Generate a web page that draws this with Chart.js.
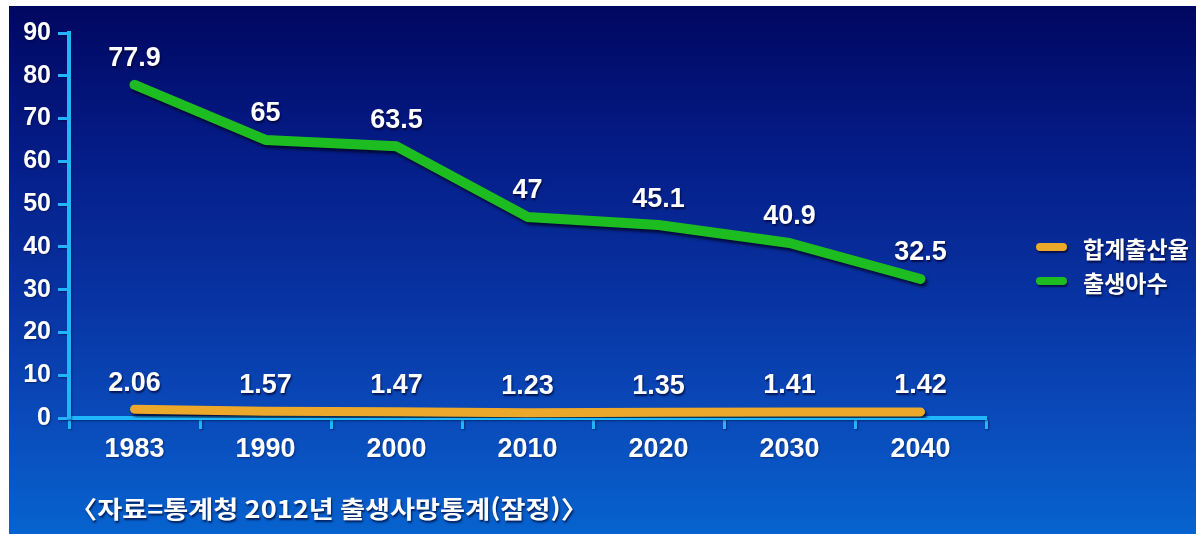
<!DOCTYPE html>
<html lang="ko">
<head>
<meta charset="utf-8">
<title>합계출산율 · 출생아수</title>
<script src="https://cdn.jsdelivr.net/npm/chart.js@4.4.1/dist/chart.umd.min.js"></script>
<style>
  html, body { margin: 0; padding: 0; background: #ffffff; }
  #wrap { width: 1196px; height: 534px; }
  canvas { display: block; }
</style>
</head>
<body>
<div id="wrap"><canvas id="chart" width="1196" height="534"></canvas></div>
<script>
// Years on the horizontal axis
const years = ['1983', '1990', '2000', '2010', '2020', '2030', '2040'];
// Total fertility rate (births per woman)
const fertilityRate = [2.06, 1.57, 1.47, 1.23, 1.35, 1.41, 1.42];
// Live births (10,000 persons)
const births = [77.9, 65, 63.5, 47, 45.1, 40.9, 32.5];
// Series names shown in the legend
const seriesNames = ['합계출산율', '출생아수'];
// Vertical axis range
const yMin = 0, yMax = 90, yStep = 10;
// Source note under the chart
const sourceNote = '〈자료=통계청 2012년 출생사망통계(잠정)〉';

const AXIS = '#20b6fa';
const ORANGE = '#eca82a';
const GREEN = '#1dbd22';
const NUM_FONT = "'Liberation Sans', Arial, 'Noto Sans CJK KR', sans-serif";
const KR_FONT = "'Noto Sans CJK KR', 'Liberation Sans', sans-serif";

// Navy-to-blue panel behind everything, plus a soft shadow for axes and text
const backdrop = {
  id: 'backdrop',
  beforeDraw(chart) {
    const ctx = chart.ctx;
    const x0 = 9, y0 = 6, w = chart.width - x0, h = chart.height - y0;
    ctx.save();
    const g = ctx.createLinearGradient(0, y0, 0, y0 + h);
    g.addColorStop(0, '#000760');
    g.addColorStop(0.25, '#041a84');
    g.addColorStop(0.55, '#0833a2');
    g.addColorStop(0.8, '#0a4cbc');
    g.addColorStop(1, '#0663cf');
    ctx.fillStyle = g;
    ctx.fillRect(x0, y0, w, h);
    ctx.restore();
    ctx.shadowColor = 'rgba(0, 0, 40, 0.45)';
    ctx.shadowOffsetX = 1;
    ctx.shadowOffsetY = 1;
    ctx.shadowBlur = 2;
  }
};

// Dark drop shadow under each line
const lineShadow = {
  id: 'lineShadow',
  beforeDatasetDraw(chart) {
    const ctx = chart.ctx;
    ctx.save();
    ctx.shadowColor = 'rgba(0, 0, 30, 0.75)';
    ctx.shadowOffsetX = 2;
    ctx.shadowOffsetY = 3;
    ctx.shadowBlur = 3;
  },
  afterDatasetDraw(chart) {
    chart.ctx.restore();
  }
};

// Value labels above every point
const valueLabels = {
  id: 'valueLabels',
  afterDatasetsDraw(chart) {
    const ctx = chart.ctx;
    ctx.save();
    ctx.font = `bold 27px ${NUM_FONT}`;
    ctx.fillStyle = '#ffffff';
    ctx.textAlign = 'center';
    ctx.textBaseline = 'middle';
    ctx.shadowColor = 'rgba(0, 0, 40, 0.7)';
    ctx.shadowOffsetX = 1;
    ctx.shadowOffsetY = 2;
    ctx.shadowBlur = 2;
    chart.data.datasets.forEach((ds, i) => {
      const meta = chart.getDatasetMeta(i);
      meta.data.forEach((pt, j) => {
        ctx.fillText(String(ds.data[j]), pt.x, pt.y - 26);
      });
    });
    ctx.restore();
  }
};

// Legend on the right and the source note at the bottom
const sideNotes = {
  id: 'sideNotes',
  afterDraw(chart) {
    const ctx = chart.ctx;
    ctx.save();
    ctx.shadowColor = 'rgba(0, 0, 40, 0.7)';
    ctx.shadowOffsetX = 1;
    ctx.shadowOffsetY = 2;
    ctx.shadowBlur = 2;
    const rows = [247, 281];
    chart.data.datasets.forEach((ds, i) => {
      const y = rows[i];
      ctx.strokeStyle = ds.borderColor;
      ctx.lineWidth = 8;
      ctx.lineCap = 'round';
      ctx.beginPath();
      ctx.moveTo(1040, y);
      ctx.lineTo(1063, y);
      ctx.stroke();
      ctx.fillStyle = '#ffffff';
      ctx.font = `bold 23px ${KR_FONT}`;
      ctx.textAlign = 'left';
      ctx.textBaseline = 'middle';
      ctx.fillText(ds.label, 1083, y + 2);
    });
    // source note, stretched a little wider like the original caption face
    ctx.font = `bold 24px ${KR_FONT}`;
    ctx.fillStyle = '#ffffff';
    ctx.textAlign = 'left';
    ctx.textBaseline = 'middle';
    const targetWidth = 518;
    const sx = targetWidth / ctx.measureText(sourceNote).width;
    ctx.translate(70, 509);
    ctx.scale(sx, 1);
    ctx.fillText(sourceNote, 0, 0);
    ctx.restore();
  }
};

new Chart(document.getElementById('chart'), {
  type: 'line',
  data: {
    labels: years,
    datasets: [
      {
        label: seriesNames[0],
        data: fertilityRate,
        borderColor: ORANGE,
        backgroundColor: ORANGE,
        borderWidth: 9,
        borderCapStyle: 'round',
        borderJoinStyle: 'round',
        pointRadius: 0,
        tension: 0
      },
      {
        label: seriesNames[1],
        data: births,
        borderColor: GREEN,
        backgroundColor: GREEN,
        borderWidth: 10,
        borderCapStyle: 'round',
        borderJoinStyle: 'round',
        pointRadius: 0,
        tension: 0
      }
    ]
  },
  options: {
    responsive: false,
    animation: false,
    layout: { padding: { left: 9, top: 33, right: 210, bottom: 0 } },
    plugins: {
      legend: { display: false },
      tooltip: { enabled: false }
    },
    scales: {
      x: {
        offset: true,
        grid: {
          offset: true,
          drawOnChartArea: false,
          drawTicks: true,
          tickLength: 11,
          tickColor: AXIS,
          tickWidth: 3
        },
        border: { color: AXIS, width: 4 },
        ticks: {
          color: '#ffffff',
          font: { family: NUM_FONT, size: 27, weight: 'bold' },
          padding: 4,
          maxRotation: 0
        },
        afterFit(scale) { scale.height = 116; }
      },
      y: {
        min: yMin,
        max: yMax,
        grid: {
          drawOnChartArea: false,
          drawTicks: true,
          tickLength: 11,
          tickColor: AXIS,
          tickWidth: 3
        },
        border: { color: AXIS, width: 4 },
        ticks: {
          stepSize: yStep,
          color: '#ffffff',
          font: { family: NUM_FONT, size: 25, weight: 'bold' },
          padding: 7
        },
        afterFit(scale) { scale.width = 60; }
      }
    }
  },
  plugins: [backdrop, lineShadow, valueLabels, sideNotes]
});
</script>
</body>
</html>
